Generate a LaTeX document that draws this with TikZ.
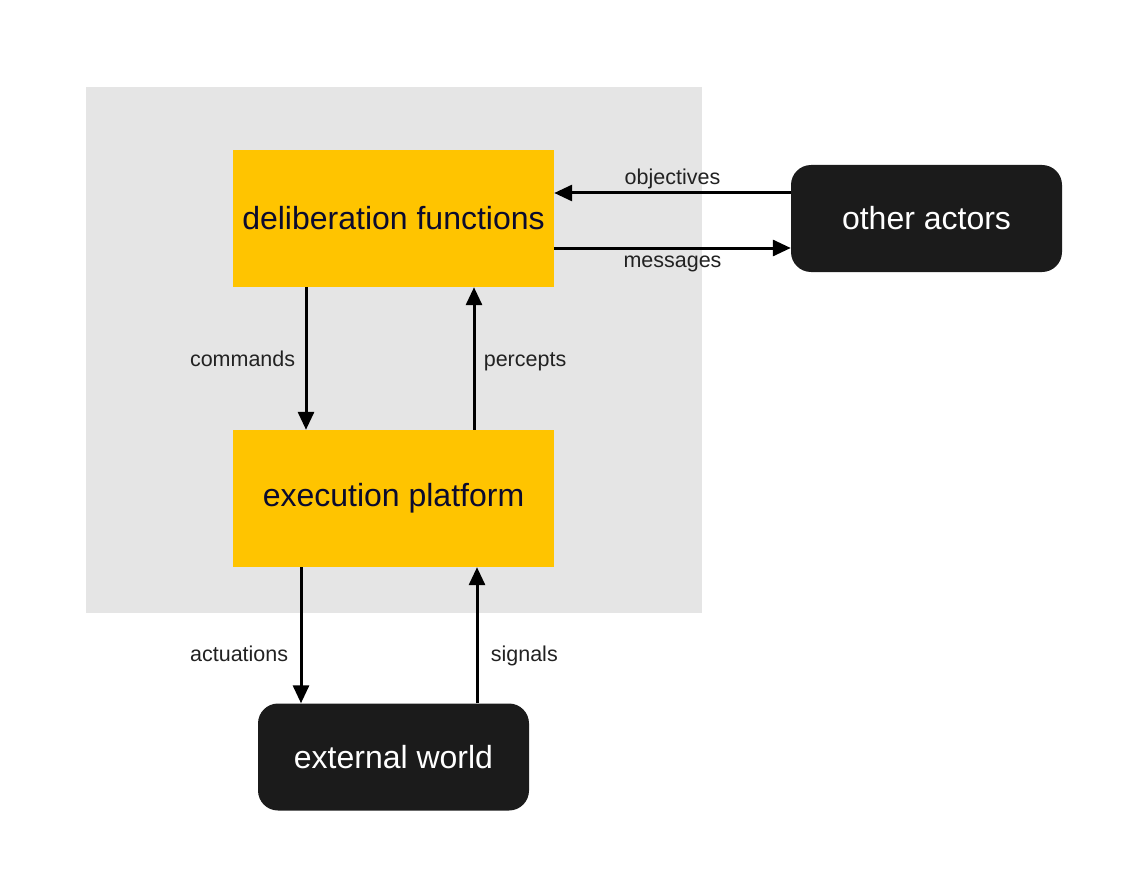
\documentclass[tikz,border=0pt]{standalone}
\usepackage{fontspec}
\setmainfont{Liberation Sans}
\usetikzlibrary{arrows.meta}
\definecolor{amber}{HTML}{FFC400}
\definecolor{panel}{HTML}{E5E5E5}
\definecolor{ink}{HTML}{1B1B1B}
\definecolor{navy}{HTML}{0B0B2E}
\definecolor{lbl}{HTML}{222222}
\begin{document}
\begin{tikzpicture}[x=1pt, y=-1pt,
    fbox/.style={fill=amber, minimum width=321pt, minimum height=137pt, inner sep=0pt, text=navy, font=\fontsize{32}{36}\selectfont},
    ebox/.style={fill=ink, rounded corners=20pt, minimum width=271pt, minimum height=107pt, inner sep=0pt, text=white, font=\fontsize{32}{36}\selectfont},
    arr/.style={line width=3pt, -{Triangle[length=18pt,width=16pt]}},
    lab/.style={text=lbl, font=\fontsize{21.5}{25}\selectfont}]
    \useasboundingbox (0,0) rectangle (1139,877);
    \fill[panel] (86,87) rectangle (702,613);
    \node[fbox] (delib) at (393.5,218.5) {deliberation functions};
    \node[fbox] (exec) at (393.5,498.5) {execution platform};
    \node[ebox] (actors) at (926.5,218.5) {other actors};
    \node[ebox] (world) at (393.5,757) {external world};
    % horizontal pair
    \draw[arr] ([yshift=25.5pt]actors.west) -- node[lab, above=-1pt] {objectives} ([yshift=25.5pt]actors.west -| delib.east);
    \draw[arr] ([yshift=-29.5pt]delib.east) -- node[lab, below=3pt] {messages} ([yshift=-29.5pt]delib.east -| actors.west);
    % vertical pairs
    \draw[arr] ([xshift=-87.5pt]delib.south) -- node[lab, left=6pt] {commands} ([xshift=-87.5pt]exec.north);
    \draw[arr] ([xshift=80.5pt]exec.north) -- node[lab, right=5pt, yshift=-3pt] {percepts} ([xshift=80.5pt]delib.south);
    \draw[arr] ([xshift=-92.5pt]exec.south) -- node[lab, left=8pt, pos=0.64] {actuations} ([xshift=-92.5pt]exec.south |- world.north);
    \draw[arr] ([xshift=83.5pt]exec.south |- world.north) -- node[lab, right=9pt, pos=0.36, yshift=-2pt] {signals} ([xshift=83.5pt]exec.south);
\end{tikzpicture}
\end{document}
